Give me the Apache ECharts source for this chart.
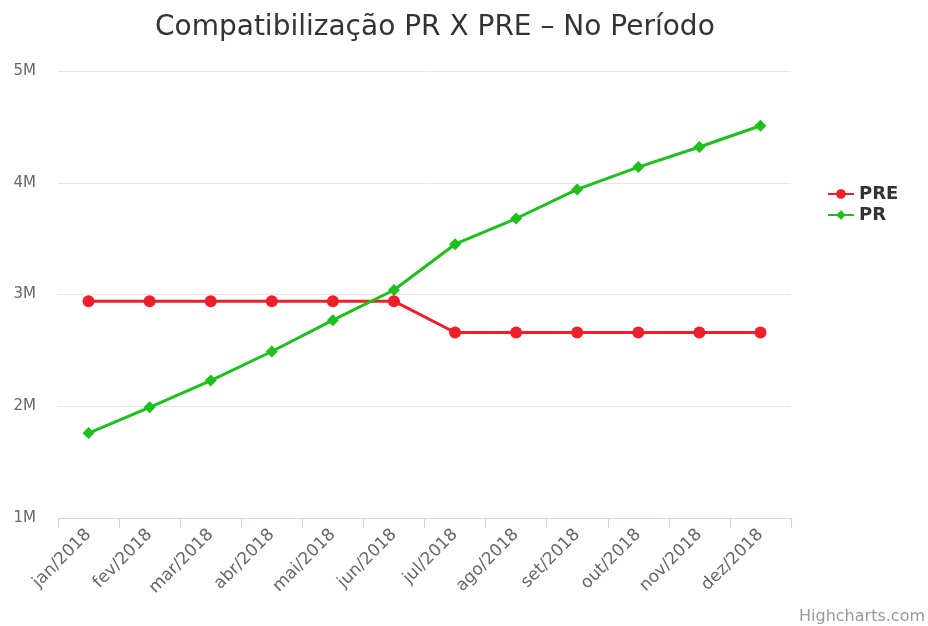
<!DOCTYPE html>
<html>
<head>
<meta charset="utf-8">
<script src="https://cdn.jsdelivr.net/npm/echarts@6/dist/echarts.min.js"></script>
<style>
  html, body { margin: 0; padding: 0; background: #fff; }
  #chart { width: 928px; height: 626px; }
</style>
</head>
<body>
<div id="chart"></div>
<script>
// dados do gráfico
const meses = ['jan/2018', 'fev/2018', 'mar/2018', 'abr/2018', 'mai/2018', 'jun/2018',
  'jul/2018', 'ago/2018', 'set/2018', 'out/2018', 'nov/2018', 'dez/2018'];
const pre = [2.94, 2.94, 2.94, 2.94, 2.94, 2.94, 2.66, 2.66, 2.66, 2.66, 2.66, 2.66];
const pr = [1.76, 1.99, 2.23, 2.49, 2.77, 3.04, 3.45, 3.68, 3.94, 4.14, 4.32, 4.51];

const font = "'DejaVu Sans', Verdana, sans-serif";
const chart = echarts.init(document.getElementById('chart'));

chart.setOption({
  animation: false,
  title: {
    text: 'Compatibilização PR X PRE – No Período',
    left: 150,
    top: 9,
    textStyle: { fontFamily: font, fontSize: 28, fontWeight: 'normal', color: '#333' }
  },
  legend: {
    orient: 'vertical',
    left: 822,
    top: 180,
    itemWidth: 26,
    itemHeight: 12,
    itemGap: 3,
    data: ['PRE', 'PR'],
    textStyle: { fontFamily: font, fontSize: 18, fontWeight: 'bold', color: '#333' }
  },
  grid: { left: 58, right: 137, top: 71, bottom: 108 },
  xAxis: {
    type: 'category',
    data: meses,
    boundaryGap: true,
    axisLine: { lineStyle: { color: '#ccd6eb' } },
    axisTick: { show: true, length: 10, lineStyle: { color: '#ccd6eb' } },
    axisLabel: { rotate: 45, color: '#666', fontFamily: font, fontSize: 17, margin: 14 }
  },
  yAxis: {
    type: 'value',
    min: 1,
    max: 5,
    interval: 1,
    axisLine: { show: false },
    axisTick: { show: false },
    splitLine: { lineStyle: { color: '#e6e6e6' } },
    axisLabel: {
      color: '#666', fontFamily: font, fontSize: 15, margin: 22,
      formatter: v => v + 'M'
    }
  },
  series: [
    {
      name: 'PRE',
      type: 'line',
      data: pre,
      symbol: 'circle',
      symbolSize: 12,
      color: '#ee1f2b',
      lineStyle: { width: 3 }
    },
    {
      name: 'PR',
      type: 'line',
      data: pr,
      symbol: 'diamond',
      symbolSize: 12,
      color: '#1cc11c',
      lineStyle: { width: 3 }
    }
  ],
  graphic: [{
    type: 'text',
    right: 3,
    bottom: 1,
    style: { text: 'Highcharts.com', fill: '#999', font: "16px 'DejaVu Sans', Verdana, sans-serif" }
  }]
});
</script>
</body>
</html>
